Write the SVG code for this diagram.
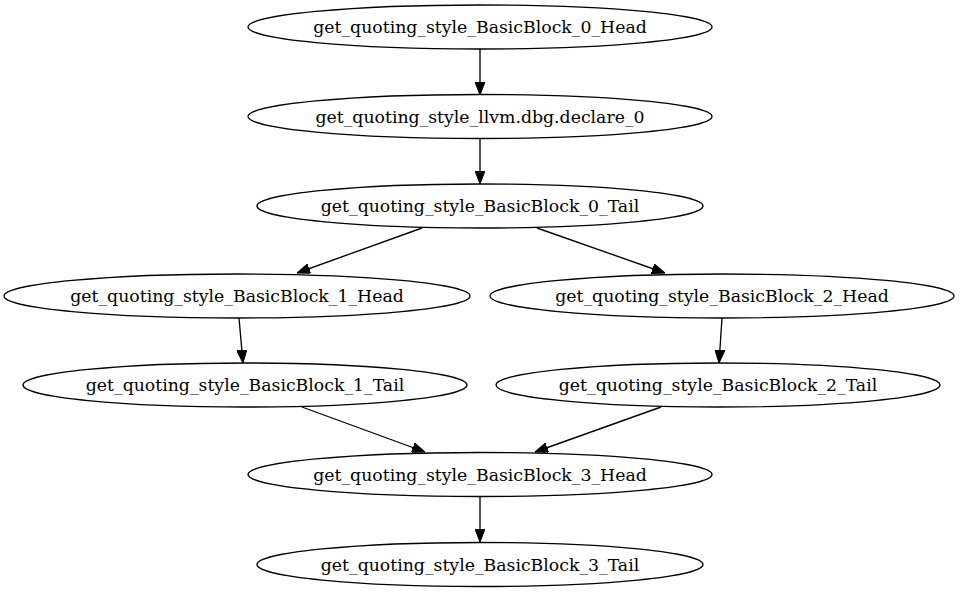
<svg xmlns="http://www.w3.org/2000/svg" width="960" height="592" viewBox="0 0 960 592">
  <style>
    .node ellipse { fill: none; stroke: #000; stroke-width: 1.33; }
    .node text { font-family: "DejaVu Serif", serif; font-size: 17.3px; text-anchor: middle; fill: #000; }
    .edges path { fill: none; stroke: #000; stroke-width: 1.33; marker-end: url(#arrow); }
  </style>
  <defs>
    <marker id="arrow" viewBox="0 0 13 10" refX="13" refY="5" markerWidth="13" markerHeight="10" markerUnits="userSpaceOnUse" orient="auto">
      <path d="M0,0 L13,5 L0,10 z" fill="#000" stroke="#000" stroke-width="1"/>
    </marker>
  </defs>
  <rect width="960" height="592" fill="#fff"/>

  <g class="edges">
    <path d="M480,49 L480,95"/>
    <path d="M480,139 L480,184"/>
    <path d="M422,228 L297,273"/>
    <path d="M537,228 L665,273"/>
    <path d="M239,318 L243,363"/>
    <path d="M722,318 L719,363"/>
    <path d="M302,407 L425,452"/>
    <path d="M661,407 L535,452"/>
    <path d="M480,497 L480,542"/>
  </g>

  <g id="bb0_head" class="node">
    <ellipse cx="480" cy="27" rx="232" ry="22"/>
    <text x="480" y="33">get_quoting_style_BasicBlock_0_Head</text>
  </g>
  <g id="dbg_declare_0" class="node">
    <ellipse cx="480" cy="116.5" rx="232" ry="22"/>
    <text x="480" y="122.5">get_quoting_style_llvm.dbg.declare_0</text>
  </g>
  <g id="bb0_tail" class="node">
    <ellipse cx="480" cy="206" rx="223" ry="22"/>
    <text x="480" y="212">get_quoting_style_BasicBlock_0_Tail</text>
  </g>
  <g id="bb1_head" class="node">
    <ellipse cx="237" cy="296" rx="233" ry="22"/>
    <text x="237" y="302">get_quoting_style_BasicBlock_1_Head</text>
  </g>
  <g id="bb2_head" class="node">
    <ellipse cx="722" cy="296" rx="232" ry="22"/>
    <text x="722" y="302">get_quoting_style_BasicBlock_2_Head</text>
  </g>
  <g id="bb1_tail" class="node">
    <ellipse cx="245" cy="385" rx="222" ry="22"/>
    <text x="245" y="391">get_quoting_style_BasicBlock_1_Tail</text>
  </g>
  <g id="bb2_tail" class="node">
    <ellipse cx="718" cy="385" rx="222" ry="22"/>
    <text x="718" y="391">get_quoting_style_BasicBlock_2_Tail</text>
  </g>
  <g id="bb3_head" class="node">
    <ellipse cx="480" cy="474.5" rx="232" ry="22"/>
    <text x="480" y="480.5">get_quoting_style_BasicBlock_3_Head</text>
  </g>
  <g id="bb3_tail" class="node">
    <ellipse cx="480" cy="564.5" rx="223" ry="22"/>
    <text x="480" y="570.5">get_quoting_style_BasicBlock_3_Tail</text>
  </g>
</svg>
